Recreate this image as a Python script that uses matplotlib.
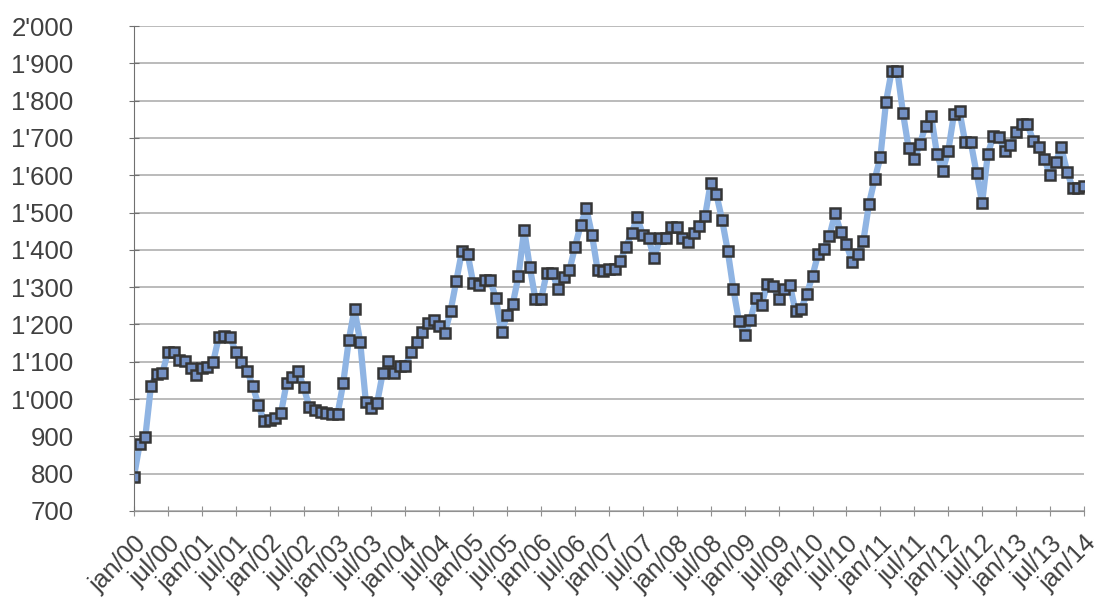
import numpy as np
import matplotlib
matplotlib.use('Agg')
import matplotlib.pyplot as plt
from matplotlib.ticker import FuncFormatter

# Monthly values, jan/00 .. jan/14
y2000 = [792, 879, 898, 1035, 1067, 1069, 1125, 1125, 1105, 1102, 1083, 1065]
y2001 = [1083, 1087, 1099, 1166, 1168, 1166, 1127, 1100, 1076, 1036, 984, 941]
y2002 = [944, 950, 962, 1044, 1060, 1074, 1032, 980, 971, 964, 962, 960]
y2003 = [960, 1042, 1159, 1241, 1154, 993, 975, 990, 1070, 1102, 1069, 1089]
y2004 = [1089, 1125, 1154, 1181, 1205, 1212, 1196, 1178, 1237, 1317, 1396, 1390]
y2005 = [1310, 1306, 1319, 1319, 1270, 1179, 1226, 1256, 1330, 1454, 1354, 1268]
y2006 = [1268, 1339, 1339, 1295, 1326, 1345, 1408, 1467, 1511, 1440, 1345, 1344]
y2007 = [1348, 1348, 1370, 1408, 1444, 1487, 1440, 1431, 1377, 1431, 1431, 1460]
y2008 = [1460, 1431, 1420, 1445, 1465, 1491, 1580, 1549, 1481, 1398, 1295, 1208]
y2009 = [1171, 1211, 1271, 1253, 1309, 1304, 1269, 1294, 1306, 1235, 1242, 1282]
y2010 = [1331, 1389, 1402, 1438, 1498, 1447, 1415, 1368, 1388, 1425, 1524, 1590]
y2011 = [1648, 1797, 1880, 1880, 1767, 1672, 1644, 1684, 1733, 1758, 1657, 1612]
y2012 = [1664, 1763, 1771, 1688, 1688, 1606, 1526, 1657, 1706, 1702, 1666, 1682]
y2013 = [1715, 1738, 1738, 1693, 1675, 1644, 1601, 1635, 1675, 1610, 1566, 1566]
y2014 = [1570]

values = (y2000 + y2001 + y2002 + y2003 + y2004 + y2005 + y2006 + y2007
          + y2008 + y2009 + y2010 + y2011 + y2012 + y2013 + y2014)

years = list(range(0, 15))
tick_labels = []
for yr in years:
    tick_labels.append(f"jan/{yr:02d}")
    if yr < 14:
        tick_labels.append(f"jul/{yr:02d}")

y_ticks = list(range(700, 2001, 100))

TEXT = '#404040'
plt.rcParams['font.family'] = ['Liberation Sans', 'DejaVu Sans']

fig = plt.figure(figsize=(11, 6.05), dpi=100)
ax = fig.add_axes([0.1218, 0.1554, 0.8636, 0.8016])

x = np.arange(len(values))
ax.plot(x, values, color='#8FB4E3', linewidth=4.5, zorder=2,
        marker='s', markersize=7, markerfacecolor='#7390C4',
        markeredgecolor='#353535', markeredgewidth=1.8)

ax.set_xlim(0, len(values) - 1)
ax.set_ylim(700, 2000)

ax.set_yticks(y_ticks)
ax.yaxis.set_major_formatter(FuncFormatter(lambda v, p: f"{int(v):,}".replace(',', "'")))
ax.set_xticks(np.arange(0, len(values), 6))
ax.set_xticklabels(tick_labels, rotation=45, ha='right', va='top',
                   rotation_mode='anchor')

ax.grid(axis='y', color='#A8A8A8', linewidth=1.1)
ax.set_axisbelow(True)
for side in ['top', 'right']:
    ax.spines[side].set_visible(False)
ax.spines['left'].set_color('#707070')
ax.spines['bottom'].set_color('#909090')

ax.tick_params(axis='y', direction='inout', length=7, color='#707070',
               labelsize=18.5, labelcolor=TEXT, pad=40)
ax.tick_params(axis='x', direction='inout', length=7, color='#909090',
               labelsize=18, labelcolor=TEXT, pad=11)

fig.savefig('out.png', dpi=100, facecolor='white')
